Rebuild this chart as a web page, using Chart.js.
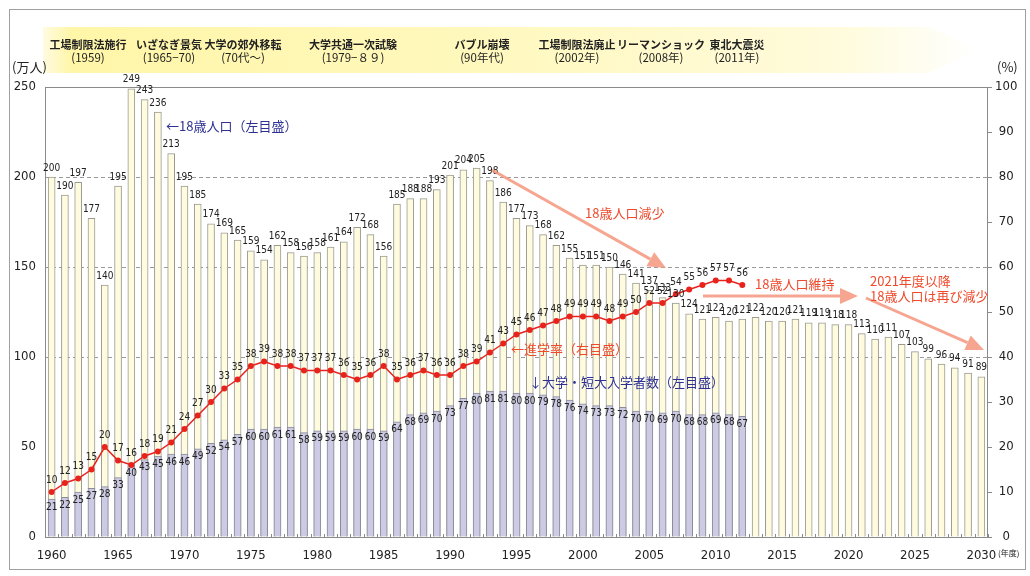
<!DOCTYPE html>
<html>
<head>
<meta charset="utf-8">
<script src="https://cdn.jsdelivr.net/npm/chart.js@4.4.0/dist/chart.umd.min.js"></script>
<style>
  html, body { margin: 0; padding: 0; background: #fff; }
  canvas { display: block; }
</style>
</head>
<body>
<canvas id="chart" width="1030" height="576"></canvas>
<script>
// years (年度)
var years = [
  "1960","1961","1962","1963","1964","1965","1966","1967","1968","1969",
  "1970","1971","1972","1973","1974","1975","1976","1977","1978","1979",
  "1980","1981","1982","1983","1984","1985","1986","1987","1988","1989",
  "1990","1991","1992","1993","1994","1995","1996","1997","1998","1999",
  "2000","2001","2002","2003","2004","2005","2006","2007","2008","2009",
  "2010","2011","2012","2013","2014","2015","2016","2017","2018","2019",
  "2020","2021","2022","2023","2024","2025","2026","2027","2028","2029","2030"
];

// 18歳人口 (万人)
var population = [
  200,190,197,177,140,195,249,243,236,213,
  195,185,174,169,165,159,154,162,158,156,
  158,161,164,172,168,156,185,188,188,193,
  201,204,205,198,186,177,173,168,162,155,
  151,151,150,146,141,137,133,130,124,121,
  122,120,121,122,120,120,121,119,119,118,
  118,113,110,111,107,103,99,96,94,91,89
];

// 大学・短大入学者数 (万人), 1960-2012
var entrants = [
  21,22,25,27,28,33,40,43,45,46,
  46,49,52,54,57,60,60,61,61,58,
  59,59,59,60,60,59,64,68,69,70,
  73,77,80,81,81,80,80,79,78,76,
  74,73,73,72,70,70,69,70,68,68,
  69,68,67
];

// 進学率 (%), 1960-2012
var rate = [
  10,12,13,15,20,17,16,18,19,21,
  24,27,30,33,35,38,39,38,38,37,
  37,37,36,35,36,38,35,36,37,36,
  36,38,39,41,43,45,46,47,48,49,
  49,49,48,49,50,52,52,54,55,56,
  57,57,56
];

var leftTicks = [0, 50, 100, 150, 200, 250];
var dashedAt = [100, 150, 200];

var events = [
  ["工場制限法施行", "(1959)", 88],
  ["いざなぎ景気", "(1965−70)", 169],
  ["大学の郊外移転", "(70代〜)", 243],
  ["大学共通一次試験", "(1979−８９)", 353],
  ["バブル崩壊", "(90年代)", 482],
  ["工場制限法廃止", "(2002年)", 577],
  ["リーマンショック", "(2008年)", 661],
  ["東北大震災", "(2011年)", 737]
];

var numFont = "'Liberation Sans Narrow', 'DejaVu Sans Condensed', 'Liberation Sans', sans-serif";
var jpFont = "'Noto Sans CJK JP', sans-serif";
var red = "#ef4a2c";
var navy = "#2e3192";
var salmon = "rgba(244,150,125,0.85)";

function arrow(c, x1, y1, x2, y2) {
  var a = Math.atan2(y2 - y1, x2 - x1);
  var hl = 18, hw = 8;
  var bx = x2 - hl * Math.cos(a), by = y2 - hl * Math.sin(a);
  c.save();
  c.strokeStyle = salmon;
  c.fillStyle = salmon;
  c.lineWidth = 3;
  c.beginPath();
  c.moveTo(x1, y1);
  c.lineTo(bx, by);
  c.stroke();
  c.beginPath();
  c.moveTo(x2, y2);
  c.lineTo(bx + hw * Math.sin(a), by - hw * Math.cos(a));
  c.lineTo(bx - hw * Math.sin(a), by + hw * Math.cos(a));
  c.closePath();
  c.fill();
  c.restore();
}

var decor = {
  id: "decor",
  beforeDraw: function (chart) {
    var c = chart.ctx;
    c.save();
    c.fillStyle = "#fff";
    c.fillRect(0, 0, chart.width, chart.height);
    c.strokeStyle = "#a0a0a0";
    c.lineWidth = 1;
    c.strokeRect(9.5, 9.5, 1016, 560);

    // banner arrow
    var g = c.createLinearGradient(43, 0, 980, 0);
    g.addColorStop(0, "#fffbe0");
    g.addColorStop(0.03, "#fff6a8");
    g.addColorStop(0.45, "#fff8bc");
    g.addColorStop(0.85, "#fffbdc");
    g.addColorStop(1, "#ffffff");
    c.fillStyle = g;
    c.beginPath();
    c.moveTo(43, 27);
    c.lineTo(928, 27);
    c.lineTo(980, 50);
    c.lineTo(928, 73);
    c.lineTo(43, 73);
    c.closePath();
    c.fill();

    c.fillStyle = "#222";
    c.textAlign = "center";
    c.textBaseline = "middle";
    events.forEach(function (e) {
      c.font = "bold 11px " + jpFont;
      c.fillText(e[0], e[2], 45);
      c.font = "11.5px " + jpFont;
      c.fillText(e[1], e[2], 58);
    });
    c.restore();
  },
  afterDatasetsDraw: function (chart) {
    var c = chart.ctx;
    var a = chart.chartArea;
    c.save();
    // frame of plot area
    c.strokeStyle = "#8a8a8a";
    c.lineWidth = 1;
    c.strokeRect(a.left + 0.5, a.top + 0.5, a.right - a.left - 1, a.bottom - a.top);

    // small ticks on x axis
    var xs = chart.scales.x;
    for (var i = 0; i <= years.length; i++) {
      var px = Math.round(xs.getPixelForValue(i - 0.5)) + 0.5;
      c.beginPath();
      c.moveTo(px, a.bottom);
      c.lineTo(px, a.bottom - 3);
      c.stroke();
    }

    // value labels
    c.font = "10px " + numFont;
    c.fillStyle = "#222";
    c.textAlign = "center";
    c.textBaseline = "middle";
    var popMeta = chart.getDatasetMeta(2);
    popMeta.data.forEach(function (el, i) {
      c.fillText(population[i], el.x, el.y - 9);
    });
    var entMeta = chart.getDatasetMeta(1);
    entMeta.data.forEach(function (el, i) {
      c.fillText(entrants[i], el.x, el.y + 8);
    });
    var rateMeta = chart.getDatasetMeta(0);
    rateMeta.data.forEach(function (el, i) {
      c.fillText(rate[i], el.x, el.y - 12);
    });
    c.restore();
  },
  afterDraw: function (chart) {
    var c = chart.ctx;
    c.save();
    c.textBaseline = "middle";
    c.textAlign = "left";

    c.fillStyle = "#222";
    c.font = "13px " + jpFont;
    c.fillText("(万人)", 12, 67);
    c.fillText("(%)", 997, 67);
    c.font = "8px " + jpFont;
    c.fillText("(年度)", 998, 553);

    arrow(c, 492, 170, 666, 268);
    arrow(c, 703, 296, 858, 296);
    arrow(c, 866, 298, 984, 350);

    c.font = "13px " + jpFont;
    c.fillStyle = navy;
    c.fillText("←18歳人口（左目盛）", 166, 126);
    c.fillText("↓大学・短大入学者数（左目盛）", 529, 382);
    c.fillStyle = red;
    c.fillText("18歳人口減少", 585, 213);
    c.fillText("18歳人口維持", 755, 284);
    c.fillText("2021年度以降", 870, 281);
    c.fillText("18歳人口は再び減少", 870, 296);
    c.fillText("←進学率（右目盛）", 511, 349);
    c.restore();
  }
};

var ctx = document.getElementById("chart").getContext("2d");
var chart = new Chart(ctx, {
  data: {
    labels: years,
    datasets: [{
      type: "line",
      label: "進学率",
      data: rate,
      yAxisID: "y2",
      borderColor: "#e8231c",
      backgroundColor: "#e8231c",
      borderWidth: 1.5,
      pointRadius: 3,
      pointBorderWidth: 0,
      pointBackgroundColor: "#e8231c",
      order: 0
    }, {
      type: "bar",
      label: "大学・短大入学者数",
      data: entrants,
      yAxisID: "y",
      backgroundColor: "#cccae4",
      borderColor: "#8c8c98",
      borderWidth: 1,
      barThickness: 7,
      grouped: false,
      order: 1
    }, {
      type: "bar",
      label: "18歳人口",
      data: population,
      yAxisID: "y",
      backgroundColor: "#fefbdf",
      borderColor: "#9a9a92",
      borderWidth: 1,
      barThickness: 7,
      grouped: false,
      order: 2
    }]
  },
  options: {
    responsive: false,
    animation: false,
    devicePixelRatio: 1,
    layout: { padding: { top: 87, left: 0, right: 0, bottom: 0 } },
    plugins: {
      legend: { display: false },
      tooltip: { enabled: false }
    },
    scales: {
      x: {
        offset: true,
        afterFit: function (s) { s.height = 39; },
        grid: { display: false },
        border: { display: false },
        ticks: {
          autoSkip: false,
          maxRotation: 0,
          padding: 3,
          color: "#222",
          font: { family: numFont, size: 13 },
          callback: function (v, i) {
            var y = years[i];
            return (+y) % 5 === 0 ? y : "";
          }
        }
      },
      y: {
        position: "left",
        min: 0,
        max: 250,
        afterFit: function (s) { s.width = 45; },
        afterBuildTicks: function (s) {
          s.ticks = leftTicks.map(function (v) { return { value: v }; });
        },
        grid: {
          drawTicks: false,
          color: function (ctx) {
            return dashedAt.indexOf(ctx.tick.value) >= 0 ? "#9a9a9a" : "rgba(0,0,0,0)";
          }
        },
        border: { display: false, dash: [4, 3] },
        ticks: {
          padding: 9,
          color: "#222",
          font: { family: numFont, size: 13 }
        }
      },
      y2: {
        position: "right",
        min: 0,
        max: 100,
        afterFit: function (s) { s.width = 42; },
        grid: {
          drawOnChartArea: false,
          tickLength: 4,
          tickColor: "#8a8a8a"
        },
        border: { display: false },
        ticks: {
          stepSize: 10,
          padding: 3,
          crossAlign: "center",
          color: "#222",
          font: { family: numFont, size: 13 }
        }
      }
    }
  },
  plugins: [decor]
});
</script>
</body>
</html>
